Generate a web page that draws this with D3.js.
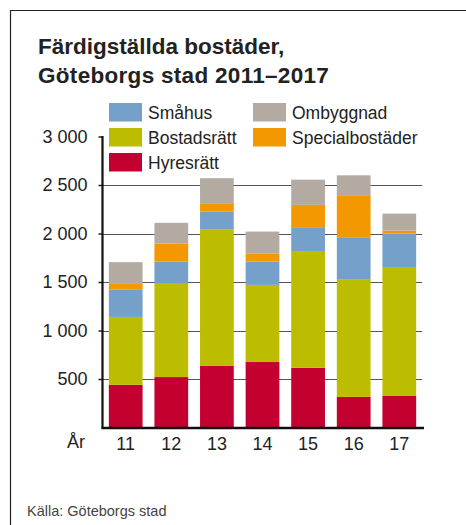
<!DOCTYPE html>
<html>
<head>
<meta charset="utf-8">
<script src="https://cdn.jsdelivr.net/npm/d3@7"></script>
<style>
  html, body { margin: 0; padding: 0; background: #fff; }
  svg { display: block; font-family: "Liberation Sans", Arial, Helvetica, sans-serif; }
</style>
</head>
<body>
<svg id="chart" width="466" height="525"></svg>
<script>
const years = ["11", "12", "13", "14", "15", "16", "17"];
const seriesNames = ["Hyresrätt", "Bostadsrätt", "Småhus", "Specialbostäder", "Ombyggnad"];
const hyresratt =      [440, 520, 635, 675, 615, 315, 325];
const bostadsratt =    [700, 970, 1410, 795, 1205, 1215, 1330];
const smahus =         [280, 220, 180, 240, 245, 425, 345];
const specialbostader = [60, 185, 80, 85, 230, 440, 30];
const ombyggnad =      [225, 215, 265, 225, 260, 205, 175];
const yTicks = [500, 1000, 1500, 2000, 2500, 3000];
const tickLabels = ["500", "1 000", "1 500", "2 000", "2 500", "3 000"];

const colors = {
  "Hyresrätt": "#c3002f",
  "Bostadsrätt": "#bdbd00",
  "Småhus": "#74a0ca",
  "Specialbostäder": "#f39800",
  "Ombyggnad": "#b3aba2"
};
const valuesBySeries = {
  "Hyresrätt": hyresratt,
  "Bostadsrätt": bostadsratt,
  "Småhus": smahus,
  "Specialbostäder": specialbostader,
  "Ombyggnad": ombyggnad
};

const table = years.map((yr, i) => {
  const row = { year: yr };
  seriesNames.forEach(s => row[s] = valuesBySeries[s][i]);
  return row;
});

const svg = d3.select("#chart");

// frame
svg.append("path")
  .attr("d", "M10.5,525 L10.5,10.5 L466,10.5")
  .attr("fill", "none").attr("stroke", "#222").attr("stroke-width", 1.2);

// title
const title = svg.append("text").attr("x", 38).attr("fill", "#222")
  .attr("font-size", 22.5).attr("font-weight", "bold");
title.append("tspan").attr("x", 38).attr("y", 54).text("Färdigställda bostäder,");
title.append("tspan").attr("x", 38).attr("y", 83).attr("letter-spacing", 0.3).text("Göteborgs stad 2011–2017");

const x = d3.scaleBand().domain(years).range([102, 423]).paddingInner(0.26).paddingOuter(0.15);
const y = d3.scaleLinear().domain([0, 3000]).range([427.5, 136.5]);

// gridlines
svg.append("g").selectAll("line").data(yTicks.filter(t => t < 3000)).join("line")
  .attr("x1", 102).attr("x2", 422)
  .attr("y1", d => Math.round(y(d)) + 0.5).attr("y2", d => Math.round(y(d)) + 0.5)
  .attr("stroke", "#555").attr("stroke-width", 1);

// stacked bars
const stack = d3.stack().keys(seriesNames);
const stacked = stack(table);
svg.append("g").selectAll("g").data(stacked).join("g")
  .attr("fill", d => colors[d.key])
  .selectAll("rect").data(d => d).join("rect")
  .attr("x", d => x(d.data.year))
  .attr("width", x.bandwidth())
  .attr("y", d => y(d[1]))
  .attr("height", d => y(d[0]) - y(d[1]));

// y axis
const yAxis = d3.axisLeft(y).tickValues(yTicks)
  .tickFormat((d, i) => tickLabels[i]).tickSize(4).tickPadding(11);
const ga = svg.append("g").attr("transform", "translate(102.5,0)").call(yAxis);
ga.select(".domain").remove();
ga.selectAll(".tick line").attr("stroke", "#222").attr("stroke-width", 1.5);
ga.selectAll(".tick text").attr("font-size", 18).attr("fill", "#222")
  .attr("font-family", "'Liberation Sans', Arial, sans-serif");
svg.append("line").attr("x1", 102.5).attr("x2", 102.5)
  .attr("y1", y(3000) - 0.5).attr("y2", y(0) + 1)
  .attr("stroke", "#111").attr("stroke-width", 2.2);

// x axis
const xAxis = d3.axisBottom(x).tickSize(0).tickPadding(9);
const gx = svg.append("g").attr("transform", "translate(0,428)").call(xAxis);
gx.select(".domain").remove();
gx.selectAll(".tick text").attr("font-size", 18).attr("fill", "#222")
  .attr("font-family", "'Liberation Sans', Arial, sans-serif");
svg.append("line").attr("x1", 101.5).attr("x2", 424)
  .attr("y1", 428).attr("y2", 428)
  .attr("stroke", "#111").attr("stroke-width", 2.6);
svg.append("text").attr("x", 85).attr("y", 448).attr("text-anchor", "end")
  .attr("font-size", 18).attr("fill", "#222").text("År");

// legend
const legendItems = [
  { name: "Småhus", col: 0, row: 0 },
  { name: "Bostadsrätt", col: 0, row: 1 },
  { name: "Hyresrätt", col: 0, row: 2 },
  { name: "Ombyggnad", col: 1, row: 0 },
  { name: "Specialbostäder", col: 1, row: 1 }
];
const colX = [109, 253];
const lg = svg.append("g").selectAll("g").data(legendItems).join("g")
  .attr("transform", d => `translate(${colX[d.col]},${103 + d.row * 25})`);
lg.append("rect").attr("width", 33).attr("height", 18.5).attr("fill", d => colors[d.name]);
lg.append("text").attr("x", 39).attr("y", 15.5).attr("font-size", 17.5).attr("fill", "#222")
  .text(d => d.name);

// source
svg.append("text").attr("x", 27).attr("y", 516).attr("font-size", 14.5)
  .attr("fill", "#444").text("Källa: Göteborgs stad");
</script>
</body>
</html>
